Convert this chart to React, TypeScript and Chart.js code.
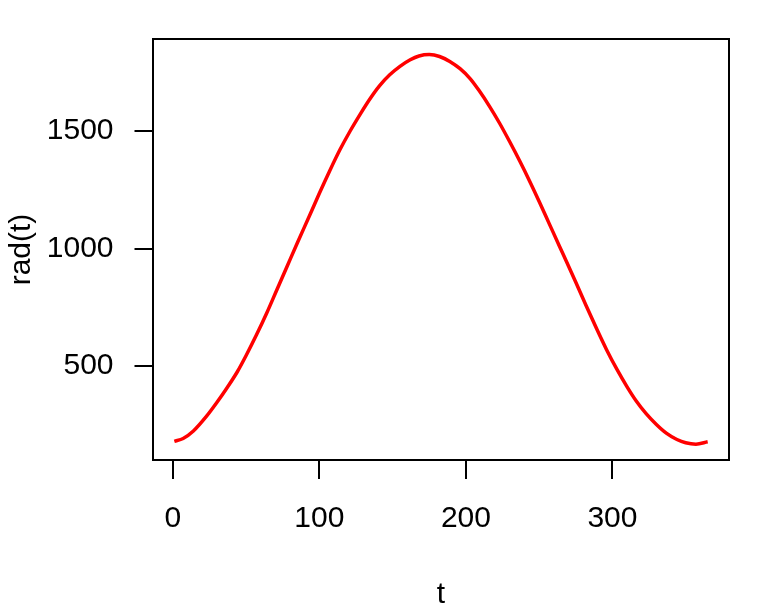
import React, { useEffect, useRef } from "react";
import { Chart, registerables } from "chart.js";

Chart.register(...registerables);

const tDays = [1, 7, 14, 23, 30, 37, 44, 50, 57, 64, 71, 78, 85, 94, 100, 107, 114, 121, 128, 134, 141, 148, 155, 162, 168, 175, 182, 189, 196, 203, 209, 216, 223, 230, 237, 244, 250, 257, 264, 269, 275, 282, 289, 296, 303, 310, 316, 323, 330, 337, 344, 350, 357, 365];
const radValues = [180, 192, 224, 287, 345, 408, 476, 545, 632, 725, 825, 925, 1025, 1150, 1235, 1330, 1420, 1500, 1573, 1632, 1692, 1739, 1775, 1803, 1819, 1825, 1817, 1796, 1765, 1722, 1672, 1606, 1533, 1453, 1369, 1280, 1200, 1104, 1008, 940, 857, 758, 662, 570, 487, 412, 354, 298, 252, 214, 188, 174, 168, 178];
const xTicks = [0, 100, 200, 300];
const yTicks = [500, 1000, 1500];
const xLabel = "t";
const yLabel = "rad(t)";

const FONT = "'Liberation Sans', Arial, sans-serif";

const boxPlugin = {
  id: "rbox",
  afterDraw(chart: any) {
    const { ctx, chartArea } = chart;
    ctx.save();
    ctx.strokeStyle = "#000";
    ctx.lineWidth = 2;
    ctx.strokeRect(chartArea.left, chartArea.top, chartArea.right - chartArea.left, chartArea.bottom - chartArea.top);
    ctx.restore();
  },
};

export default function App() {
  const ref = useRef<HTMLCanvasElement | null>(null);
  useEffect(() => {
    if (!ref.current) return;
    const points = tDays.map((t, i) => ({ x: t, y: radValues[i] }));
    const chart = new Chart(ref.current, {
      type: "line",
      data: {
        datasets: [
          {
            data: points,
            borderColor: "#ff0000",
            borderWidth: 3.5,
            pointRadius: 0,
            cubicInterpolationMode: "monotone",
            fill: false,
          },
        ],
      },
      options: {
        animation: false,
        responsive: false,
        maintainAspectRatio: false,
        layout: { padding: { top: 37.5, right: 39, left: 0, bottom: 0 } },
        plugins: { legend: { display: false }, tooltip: { enabled: false } },
        scales: {
          x: {
            type: "linear",
            min: -13.56,
            max: 379.56,
            afterBuildTicks: (s: any) => {
              s.ticks = xTicks.map((v) => ({ value: v }));
            },
            afterFit: (s: any) => {
              s.height = 154;
            },
            grid: { drawOnChartArea: false, tickLength: 19, color: "#000", lineWidth: 2 },
            border: { display: true, color: "#000", width: 2 },
            ticks: { color: "#000", font: { family: FONT, size: 30 }, padding: 22, maxRotation: 0, autoSkip: false, callback: (v: any) => String(v) },
            title: { display: true, text: xLabel, color: "#000", font: { family: FONT, size: 30 }, padding: { top: 0, bottom: 1 } },
          },
          y: {
            type: "linear",
            min: 100.7,
            max: 1891.3,
            afterBuildTicks: (s: any) => {
              s.ticks = yTicks.map((v) => ({ value: v }));
            },
            afterFit: (s: any) => {
              s.width = 153;
            },
            grid: { drawOnChartArea: false, tickLength: 18.5, color: "#000", lineWidth: 2 },
            border: { display: true, color: "#000", width: 2 },
            ticks: { color: "#000", font: { family: FONT, size: 30 }, padding: 21, autoSkip: false, callback: (v: any) => String(v) },
            title: { display: true, text: yLabel, color: "#000", font: { family: FONT, size: 30 }, padding: { top: 3.5, bottom: 0 } },
          },
        },
      },
      plugins: [boxPlugin],
    });
    return () => chart.destroy();
  }, []);
  return (
    <div style={{ position: "fixed", left: 0, top: 0, width: 768, height: 614, background: "#fff" }}>
      <canvas ref={ref} width={768} height={614} style={{ width: 768, height: 614, display: "block" }} />
    </div>
  );
}
